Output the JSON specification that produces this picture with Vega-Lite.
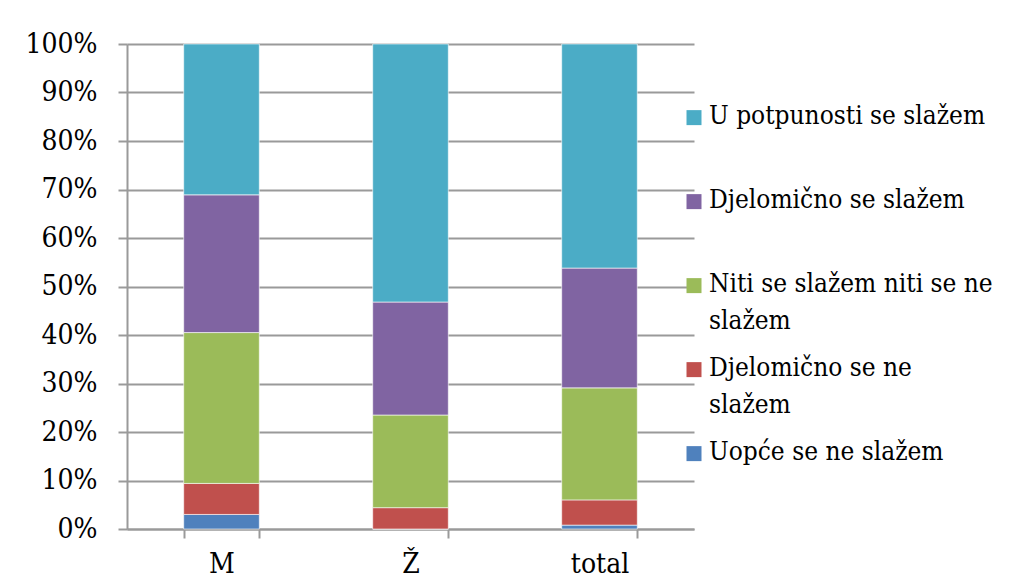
{
  "$schema": "https://vega.github.io/schema/vega-lite/v6.json",
  "width": 567,
  "height": 485,
  "autosize": {"type": "none"},
  "padding": {"left": 127, "top": 44, "right": 335, "bottom": 57},
  "background": "white",
  "data": {
    "values": [
      {"group": "M", "answer": "Uopće se ne slažem", "code": 1, "pct": 3.0},
      {"group": "M", "answer": "Djelomično se ne slažem", "code": 2, "pct": 6.4},
      {"group": "M", "answer": "Niti se slažem niti se ne slažem", "code": 3, "pct": 31.1},
      {"group": "M", "answer": "Djelomično se slažem", "code": 4, "pct": 28.4},
      {"group": "M", "answer": "U potpunosti se slažem", "code": 5, "pct": 31.1},
      {"group": "Ž", "answer": "Uopće se ne slažem", "code": 1, "pct": 0},
      {"group": "Ž", "answer": "Djelomično se ne slažem", "code": 2, "pct": 4.4},
      {"group": "Ž", "answer": "Niti se slažem niti se ne slažem", "code": 3, "pct": 19.1},
      {"group": "Ž", "answer": "Djelomično se slažem", "code": 4, "pct": 23.3},
      {"group": "Ž", "answer": "U potpunosti se slažem", "code": 5, "pct": 53.2},
      {"group": "total", "answer": "Uopće se ne slažem", "code": 1, "pct": 0.8},
      {"group": "total", "answer": "Djelomično se ne slažem", "code": 2, "pct": 5.2},
      {"group": "total", "answer": "Niti se slažem niti se ne slažem", "code": 3, "pct": 23.1},
      {"group": "total", "answer": "Djelomično se slažem", "code": 4, "pct": 24.7},
      {"group": "total", "answer": "U potpunosti se slažem", "code": 5, "pct": 46.2}
    ]
  },
  "mark": {"type": "bar", "stroke": "white", "strokeWidth": 0.6},
  "encoding": {
    "x": {
      "field": "group",
      "type": "nominal",
      "sort": ["M", "Ž", "total"],
      "scale": {"paddingInner": 0.6, "paddingOuter": 0.3},
      "axis": {
        "title": null,
        "labelAngle": 0,
        "tickBand": "extent",
        "grid": false,
        "labelFont": "DejaVu Serif Condensed, DejaVu Serif",
        "labelFontSize": 28,
        "labelColor": "black",
        "labelPadding": 12,
        "tickSize": 9,
        "tickColor": "#9a9a9a",
        "tickWidth": 2,
        "domainColor": "#9a9a9a",
        "domainWidth": 2
      }
    },
    "y": {
      "field": "pct",
      "type": "quantitative",
      "stack": "normalize",
      "scale": {"domain": [0, 1]},
      "axis": {
        "title": null,
        "format": ".0%",
        "values": [0, 0.1, 0.2, 0.3, 0.4, 0.5, 0.6, 0.7, 0.8, 0.9, 1],
        "grid": true,
        "gridColor": "#9a9a9a",
        "gridWidth": 2,
        "tickSize": 9,
        "tickColor": "#9a9a9a",
        "tickWidth": 2,
        "domainColor": "#9a9a9a",
        "domainWidth": 2,
        "labelFont": "DejaVu Serif Condensed, DejaVu Serif",
        "labelFontSize": 28,
        "labelColor": "black",
        "labelPadding": 21
      }
    },
    "color": {
      "field": "answer",
      "type": "nominal",
      "scale": {
        "domain": ["U potpunosti se slažem", "Djelomično se slažem", "Niti se slažem niti se ne slažem", "Djelomično se ne slažem", "Uopće se ne slažem"],
        "range": ["#4BACC6", "#8064A2", "#9BBB59", "#C0504D", "#4F81BD"]
      },
      "legend": {
        "title": null,
        "orient": "none",
        "legendX": 554,
        "legendY": 67,
        "padding": 0,
        "gridAlign": "all",
        "symbolType": "M-1,-1.85H1V0.15H-1Z",
        "symbolSize": 225,
        "symbolStrokeWidth": 0,
        "symbolOpacity": 1,
        "labelFont": "DejaVu Serif Condensed, DejaVu Serif",
        "labelFontSize": 26,
        "labelColor": "black",
        "labelBaseline": "alphabetic",
        "labelOffset": 2,
        "labelLimit": 0,
        "rowPadding": 21,
        "labelExpr": "datum.label == 'Niti se slažem niti se ne slažem' ? ['Niti se slažem niti se ne', 'slažem'] : datum.label == 'Djelomično se ne slažem' ? ['Djelomično se ne', 'slažem'] : datum.label",
        "encode": {"labels": {"update": {"lineHeight": {"value": 37}}}}
      }
    },
    "order": {"field": "code", "type": "quantitative"}
  },
  "config": {
    "view": {"stroke": null},
    "style": {"guide-label": {"lineHeight": 37}}
  }
}
